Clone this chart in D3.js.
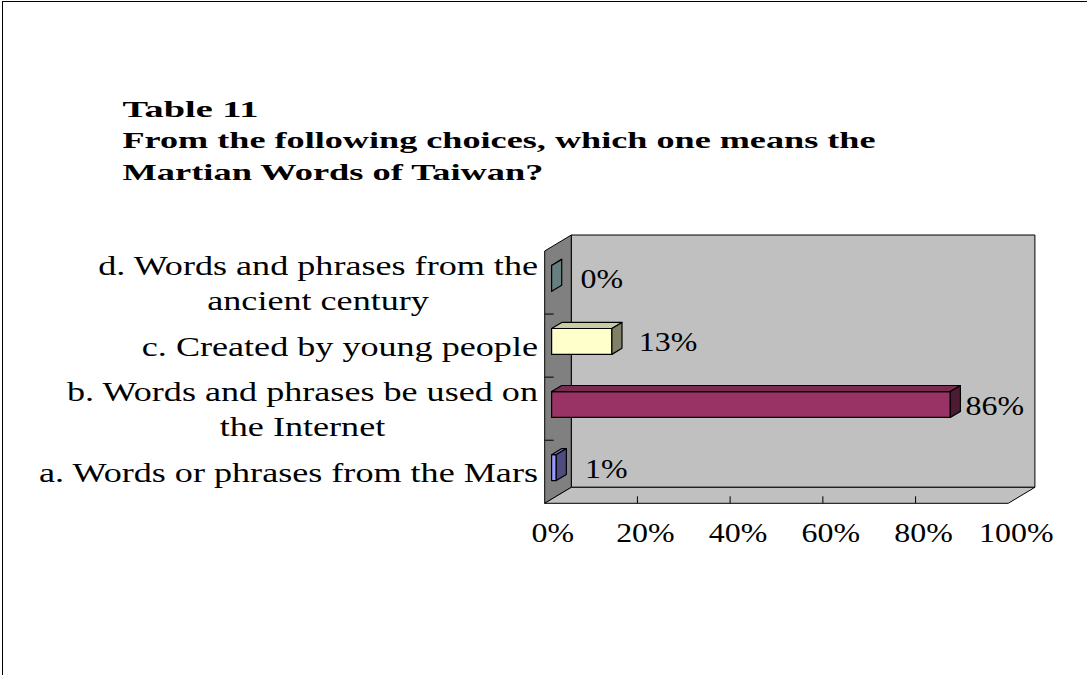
<!DOCTYPE html>
<html>
<head>
<meta charset="utf-8">
<script src="https://cdn.jsdelivr.net/npm/d3@7"></script>
<style>
  html, body { margin: 0; padding: 0; background: #ffffff; }
  svg { display: block; }
  text { font-family: "Liberation Serif", "Times New Roman", serif; fill: #000; }
</style>
</head>
<body>
<svg id="chart" width="1087" height="675"></svg>
<script>
// ---- data ----
const titleLines = ["Table 11", "From the following choices, which one means the", "Martian Words of Taiwan?"];
const categories = ["a", "b", "c", "d"];
const categoryLabels = [
  ["a. Words or phrases from the Mars"],
  ["b. Words and phrases be used on", "the Internet"],
  ["c. Created by young people"],
  ["d. Words and phrases from the", "ancient century"]
];
const values = [1, 86, 13, 0];
const barColors = ["#9999FF", "#993366", "#FFFFCC", "#CCFFFF"];
const tickValues = [0, 20, 40, 60, 80, 100];
const tickLabels = ["0%", "20%", "40%", "60%", "80%", "100%"];

// ---- layout ----
const svg = d3.select("#chart");
const W = 1087, H = 675;
const plotLeft = 544.7, plotRight = 1008.3, plotTop = 251, plotBottom = 503.3;
const DX = 26.6, DY = -16;          // full depth projection offset
const barZ0 = 0.26, barZ1 = 0.64;   // bar depth placement (fraction of depth)

const x = d3.scaleLinear().domain([0, 100]).range([plotLeft, plotRight]);
const y = d3.scaleBand().domain(categories).range([plotBottom, plotTop])
  .paddingInner(0.59).paddingOuter(0.295);
const yCat = d3.scaleBand().domain(categories).range([plotBottom, plotTop]);

// stretch text horizontally (the source font is wider than Times)
function stretch(sel, k) {
  sel.each(function() {
    const n = this.getComputedTextLength();
    d3.select(this).attr("textLength", n * k).attr("lengthAdjust", "spacingAndGlyphs");
  });
  return sel;
}

// outer border
svg.append("rect").attr("x", 2.5).attr("y", 1.5).attr("width", W + 10).attr("height", H + 10)
  .attr("fill", "#fff").attr("stroke", "#000").attr("stroke-width", 1);

// title
const title = svg.append("g").attr("font-weight", "bold").attr("font-size", 23);
const titleWidths = [136, 753, 421];
const titleBase = [117, 148, 180];
titleLines.forEach((t, i) => {
  title.append("text").attr("x", 122.5).attr("y", titleBase[i])
    .attr("textLength", titleWidths[i]).attr("lengthAdjust", "spacingAndGlyphs").text(t);
});

// ---- 3D frame ----
const pt = (px, py) => px + "," + py;
const g = svg.append("g");
// back wall
g.append("polygon")
  .attr("points", [pt(plotLeft + DX, plotTop + DY), pt(plotRight + DX, plotTop + DY),
                   pt(plotRight + DX, plotBottom + DY), pt(plotLeft + DX, plotBottom + DY)].join(" "))
  .attr("fill", "#C0C0C0").attr("stroke", "#000").attr("stroke-width", 1);
// side wall
g.append("polygon")
  .attr("points", [pt(plotLeft, plotTop), pt(plotLeft + DX, plotTop + DY),
                   pt(plotLeft + DX, plotBottom + DY), pt(plotLeft, plotBottom)].join(" "))
  .attr("fill", "#808080").attr("stroke", "#000").attr("stroke-width", 1);
// floor
g.append("polygon")
  .attr("points", [pt(plotLeft, plotBottom), pt(plotLeft + DX, plotBottom + DY),
                   pt(plotRight + DX, plotBottom + DY), pt(plotRight, plotBottom)].join(" "))
  .attr("fill", "#C0C0C0").attr("stroke", "#000").attr("stroke-width", 1);

// value axis ticks on front floor edge
g.selectAll("line.xtick").data(tickValues.slice(1, -1)).join("line")
  .attr("class", "xtick")
  .attr("x1", d => x(d)).attr("x2", d => x(d))
  .attr("y1", plotBottom).attr("y2", plotBottom - 7)
  .attr("stroke", "#000").attr("stroke-width", 1);

// category ticks on side wall
g.selectAll("line.ytick").data(categories.slice(0, -1)).join("line")
  .attr("class", "ytick")
  .attr("x1", plotLeft).attr("x2", plotLeft + 9)
  .attr("y1", d => yCat(d)).attr("y2", d => yCat(d))
  .attr("stroke", "#000").attr("stroke-width", 1);

// tick labels
const tl = svg.append("g").selectAll("text").data(tickValues).join("text")
  .attr("x", d => x(d) + 8).attr("y", 542)
  .attr("text-anchor", "middle").attr("font-size", 28)
  .text((d, i) => tickLabels[i]);
stretch(tl, 1.14);

// ---- bars ----
const bx = v => x(v) + barZ0 * DX;
const bdx = (barZ1 - barZ0) * DX, bdy = (barZ1 - barZ0) * DY;
const shade = (c, k) => { const r = d3.rgb(c); return d3.rgb(r.r * k, r.g * k, r.b * k).formatHex(); };

const bars = svg.append("g").selectAll("g").data(categories).join("g");
bars.each(function(cat, i) {
  const sel = d3.select(this);
  const v = values[i];
  const x0 = bx(0), x1 = bx(v);
  const y0 = y(cat) + barZ0 * DY, h = y.bandwidth();
  // front
  sel.append("polygon")
    .attr("points", [pt(x0, y0), pt(x1, y0), pt(x1, y0 + h), pt(x0, y0 + h)].join(" "))
    .attr("fill", barColors[i]).attr("stroke", "#000").attr("stroke-width", 1.2).attr("stroke-linejoin", "round");
  // top
  sel.append("polygon")
    .attr("points", [pt(x0, y0), pt(x0 + bdx, y0 + bdy), pt(x1 + bdx, y0 + bdy), pt(x1, y0)].join(" "))
    .attr("fill", shade(barColors[i], 0.8)).attr("stroke", "#000").attr("stroke-width", 1.2).attr("stroke-linejoin", "round");
  // right end
  sel.append("polygon")
    .attr("points", [pt(x1, y0), pt(x1 + bdx, y0 + bdy), pt(x1 + bdx, y0 + bdy + h), pt(x1, y0 + h)].join(" "))
    .attr("fill", shade(barColors[i], 0.5)).attr("stroke", "#000").attr("stroke-width", 1.2).attr("stroke-linejoin", "round");
  // value label
  const t = sel.append("text")
    .attr("x", x1 + 29 - 0.16 * v)
    .attr("y", y0 + h / 2 + 10)
    .attr("font-size", 28)
    .text(v + "%");
  stretch(t, 1.14);
});

// ---- category labels ----
const labelRight = 538, lineH = 35, labelStretch = 1.29;
const labels = svg.append("g").attr("font-size", 28);
categories.forEach((cat, i) => {
  const lines = categoryLabels[i];
  const cy = yCat(cat) + yCat.bandwidth() / 2;
  const firstBase = cy + 10 - (lines.length - 1) * lineH / 2;
  const texts = lines.map((ln, j) => labels.append("text")
    .attr("y", firstBase + j * lineH).attr("text-anchor", "middle").text(ln));
  texts.forEach(t => stretch(t, labelStretch));
  const maxW = d3.max(texts, t => +t.attr("textLength"));
  texts.forEach(t => t.attr("x", labelRight - maxW / 2));
});
</script>
</body>
</html>
